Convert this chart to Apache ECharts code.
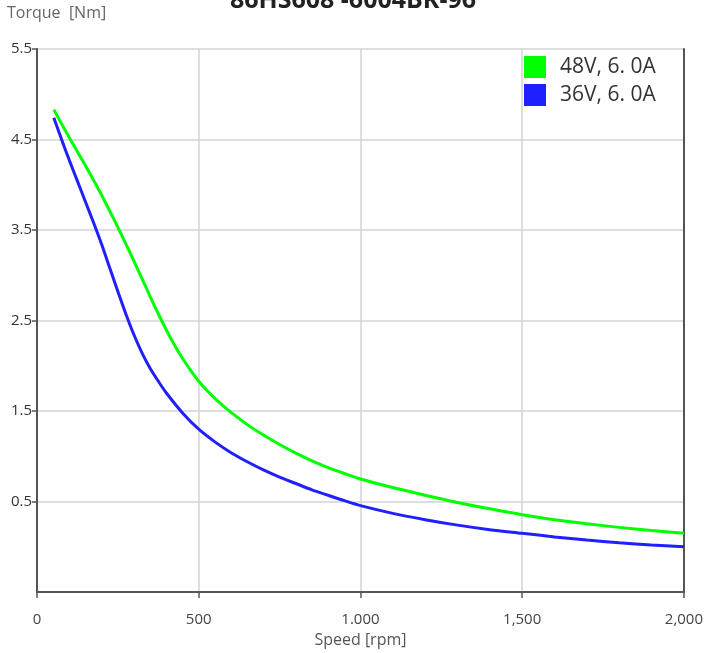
<!DOCTYPE html>
<html>
<head>
<meta charset="utf-8">
<script src="https://cdn.jsdelivr.net/npm/echarts@6/dist/echarts.min.js"></script>
<style>html,body{margin:0;padding:0;background:#fff}#c{width:706px;height:653px}</style>
</head>
<body>
<div id="c"></div>
<script>
const titleText = '86HS608 -6004BK-96';
const xName = 'Speed [rpm]';
const yName = 'Torque  [Nm]';
const seriesNames = ['48V, 6. 0A', '36V, 6. 0A'];
const xTickValues = [0, 500, 1000, 1500, 2000];
const xTickLabels = ['0', '500', '1.000', '1,500', '2,000'];
const yTickValues = [0.5, 1.5, 2.5, 3.5, 4.5, 5.5];
const yTickLabels = ['0.5', '1.5', '2.5', '3.5', '4.5', '5.5'];

const speed48 = [52, 75, 100, 125, 150, 175, 200, 225, 250, 275, 300, 325, 350, 375, 400, 425, 450, 475, 500, 525, 550, 575, 600, 650, 700, 750, 800, 850, 900, 950, 1000, 1100, 1200, 1300, 1400, 1500, 1600, 1700, 1800, 1900, 2000];
const torque48 = [4.83, 4.68, 4.52, 4.365, 4.21, 4.05, 3.885, 3.71, 3.53, 3.345, 3.155, 2.96, 2.765, 2.575, 2.395, 2.23, 2.08, 1.95, 1.83, 1.73, 1.64, 1.56, 1.485, 1.35, 1.235, 1.13, 1.035, 0.95, 0.875, 0.81, 0.75, 0.655, 0.57, 0.49, 0.42, 0.355, 0.30, 0.255, 0.215, 0.18, 0.15];

const speed36 = [52, 75, 100, 125, 150, 175, 200, 225, 250, 275, 300, 325, 350, 375, 400, 450, 500, 550, 600, 650, 700, 750, 800, 850, 900, 950, 1000, 1100, 1200, 1300, 1400, 1500, 1600, 1700, 1800, 1900, 2000];
const torque36 = [4.74, 4.51, 4.27, 4.04, 3.81, 3.58, 3.34, 3.08, 2.82, 2.57, 2.34, 2.14, 1.97, 1.83, 1.70, 1.48, 1.30, 1.16, 1.04, 0.94, 0.85, 0.77, 0.70, 0.63, 0.57, 0.51, 0.455, 0.37, 0.30, 0.24, 0.19, 0.15, 0.11, 0.075, 0.045, 0.02, 0.00];

const colors = ['#00ff00', '#1f1fff'];
const font = '"Open Sans", "Noto Sans", sans-serif';

const chart = echarts.init(document.getElementById('c'));
chart.setOption({
  animation: false,
  backgroundColor: '#fff',
  title: {
    text: titleText, left: 'center', top: -17,
    textStyle: {fontFamily: font, fontWeight: 'bold', fontSize: 25, color: '#222'}
  },
  graphic: [{
    type: 'text', left: 7, top: 5,
    style: {text: yName, fontFamily: font, fontSize: 16, fill: '#666'}
  }],
  legend: {
    orient: 'vertical', left: 524, top: 56, padding: 0, itemWidth: 22, itemHeight: 22, itemGap: 6,
    icon: 'rect',
    textStyle: {fontFamily: font, fontSize: 21, color: '#333', padding: [0, 0, 0, 9]},
    data: seriesNames
  },
  grid: {left: 37, right: 21, top: 49, bottom: 60},
  xAxis: {
    type: 'value', min: 0, max: 2000, interval: 500,
    name: xName, nameLocation: 'middle', nameGap: 39,
    nameTextStyle: {fontFamily: font, fontSize: 16, color: '#555'},
    axisLine: {show: true, onZero: false, lineStyle: {color: '#555', width: 2}},
    axisTick: {show: true, length: 6, lineStyle: {color: '#555', width: 1.5}},
    axisLabel: {fontFamily: font, fontSize: 15, color: '#444', margin: 20,
      formatter: v => xTickLabels[xTickValues.indexOf(v)] ?? ''},
    splitLine: {show: true, lineStyle: {color: '#d3d3d3', width: 1.5}}
  },
  yAxis: [{
    type: 'value', min: -0.5, max: 5.5,
    axisLine: {show: true, onZero: false, lineStyle: {color: '#555', width: 2}},
    axisTick: {show: true, length: 5, customValues: yTickValues, lineStyle: {color: '#555', width: 1.5}},
    axisLabel: {fontFamily: font, fontSize: 15, color: '#333', margin: 5, customValues: yTickValues,
      formatter: v => yTickLabels[yTickValues.findIndex(t => Math.abs(t - v) < 1e-6)] ?? ''},
    splitLine: {show: true, lineStyle: {color: '#d3d3d3', width: 1.5}}
  }, {
    type: 'value', min: -0.5, max: 5.5, position: 'right',
    axisLine: {show: true, onZero: false, lineStyle: {color: '#555', width: 2}},
    axisTick: {show: false}, axisLabel: {show: false}, splitLine: {show: false}
  }],
  series: [{
    name: seriesNames[0], type: 'line', smooth: 0.3, showSymbol: false,
    color: colors[0], lineStyle: {width: 3, color: colors[0]},
    data: speed48.map((s, i) => [s, torque48[i]])
  }, {
    name: seriesNames[1], type: 'line', smooth: 0.3, showSymbol: false,
    color: colors[1], lineStyle: {width: 3, color: colors[1]},
    data: speed36.map((s, i) => [s, torque36[i]])
  }]
});
</script>
</body>
</html>
